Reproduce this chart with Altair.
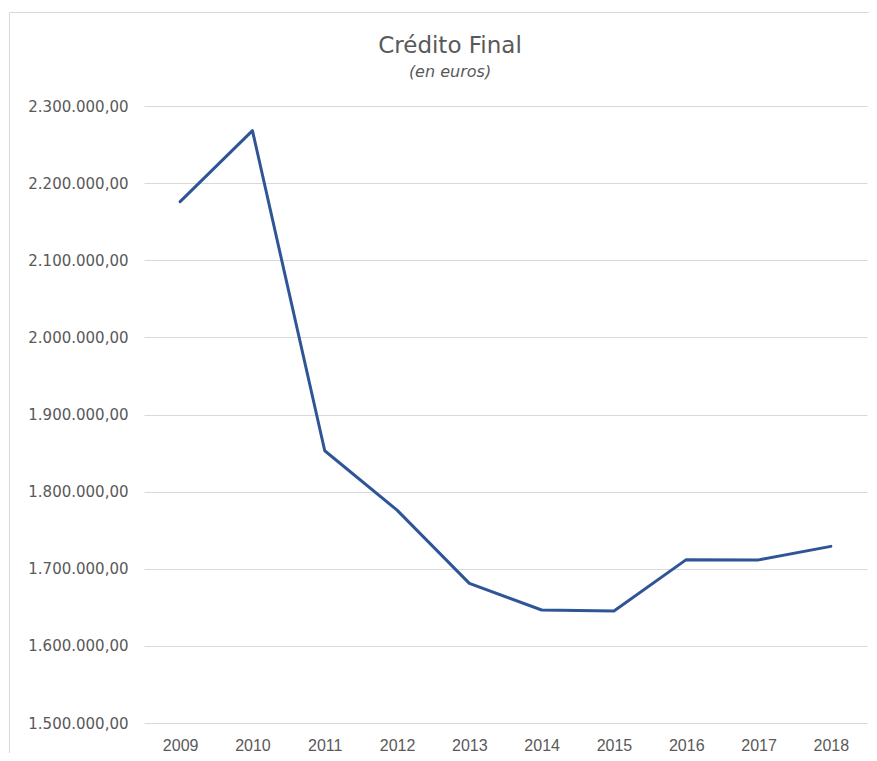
import altair as alt
import pandas as pd

# ---- data ----
years = ["2009", "2010", "2011", "2012", "2013", "2014", "2015", "2016", "2017", "2018"]
credito_final = [2176000, 2268000, 1853000, 1776000, 1681000, 1646500, 1645300, 1711800, 1711500, 1729000]
y_ticks = [1500000, 1600000, 1700000, 1800000, 1900000, 2000000, 2100000, 2200000, 2300000]
title_text = "Crédito Final"
subtitle_text = "(en euros)"

df = pd.DataFrame({"anio": years, "credito": credito_final})

W, H = 723, 617
GREY = "#595959"

euro_fmt = ("replace(replace(replace(format(datum.value, ',.2f'), regexp(',', 'g'), '#'),"
            " regexp('[.]', 'g'), ','), regexp('#', 'g'), '.')")

line = alt.Chart(df).mark_line(
    color="#2F5597", strokeWidth=3, strokeJoin="round", strokeCap="round"
).encode(
    x=alt.X("anio:O", sort=years, scale=alt.Scale(padding=0.5),
            axis=alt.Axis(title=None, labelAngle=0, ticks=False, tickSize=0, domain=False,
                          grid=False, labelFont="Liberation Sans", labelFontSize=16,
                          labelColor=GREY, labelPadding=14)),
    y=alt.Y("credito:Q", scale=alt.Scale(domain=[1500000, 2300000], nice=False, zero=False),
            axis=alt.Axis(title=None, values=y_ticks, ticks=False, tickSize=0, domain=False,
                          grid=True, gridColor="#D9D9D9", gridWidth=1,
                          labelFont="DejaVu Sans", labelFontSize=15, labelColor=GREY,
                          labelPadding=16, labelExpr=euro_fmt)),
)

border = alt.Chart(pd.DataFrame({"b": [0]})).mark_rect(
    fillOpacity=0, stroke="#D9D9D9", strokeWidth=1
).encode(x=alt.value(-134.5), x2=alt.value(780), y=alt.value(-93.5), y2=alt.value(720))

title = alt.Chart(pd.DataFrame({"t": [title_text]})).mark_text(
    font="DejaVu Sans", fontSize=23, color=GREY, align="center", baseline="alphabetic"
).encode(text="t:N", x=alt.value(306), y=alt.value(-53))

subtitle = alt.Chart(pd.DataFrame({"t": [subtitle_text]})).mark_text(
    font="DejaVu Sans", fontSize=16, fontStyle="italic", color=GREY, align="center",
    baseline="alphabetic"
).encode(text="t:N", x=alt.value(306), y=alt.value(-29))

chart = alt.layer(border, line, title, subtitle).properties(
    width=W, height=H, autosize="none",
    padding={"left": 136, "top": 98, "right": 2, "bottom": 30},
).configure_view(stroke=None)

chart.save("out.html", embed_options={"renderer": "svg", "actions": False})
